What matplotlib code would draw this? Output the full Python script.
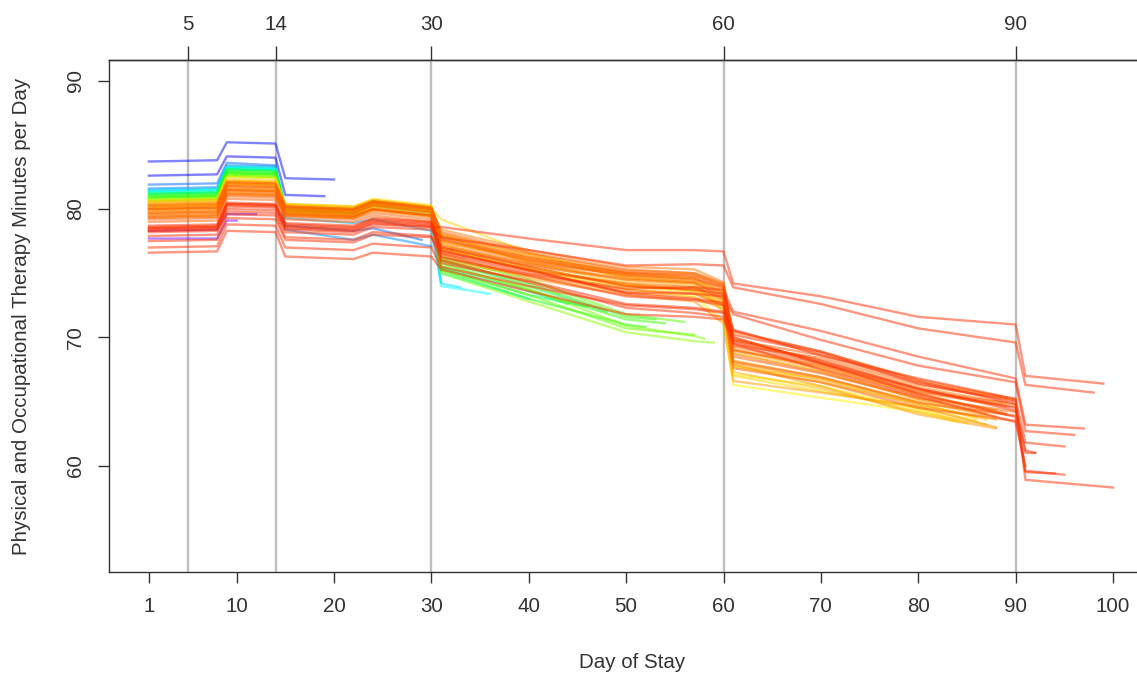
import colorsys
import numpy as np
import matplotlib
matplotlib.use("Agg")
import matplotlib.pyplot as plt

# ---- data --------------------------------------------------------------
# each trajectory is given at these days (only the ones before its end),
# followed by its value on its last day of stay
knot_days = [1, 8, 9, 14, 15, 22, 24, 30, 31, 40, 50, 57, 60, 61, 70, 80, 90, 91]

stay_len = [10, 12, 19, 20, 29, 30, 31, 33, 36, 40, 44, 46, 48, 52, 53, 54, 56, 57, 58, 59,
            84, 85, 86, 86, 87, 87, 87, 88, 88, 88, 88, 88,
            89, 89, 89, 89, 89, 90, 90, 90, 90, 90, 90, 90,
            91, 92, 92, 94, 95, 95, 96, 97, 98, 99, 100]

stay_vals = [
    [77.7, 77.7, 79.1, 79.1],
    [78.3, 78.4, 79.6, 79.6],
    [82.6, 82.7, 84.1, 84.0, 81.1, 81.0],
    [83.7, 83.8, 85.2, 85.1, 82.4, 82.3],
    [81.9, 82.0, 83.6, 83.4, 78.7, 78.3, 78.5, 77.6],
    [81.6, 81.7, 83.4, 83.3, 78.4, 77.6, 78.0, 77.1],
    [81.5, 81.6, 83.3, 83.2, 79.3, 78.9, 79.2, 78.3, 74.3],
    [81.4, 81.5, 83.2, 83.1, 80.0, 79.8, 80.3, 79.6, 74.2, 73.9],
    [81.3, 81.4, 83.2, 83.1, 80.1, 79.9, 80.5, 79.8, 74.0, 73.4],
    [81.4, 81.5, 83.3, 83.2, 80.3, 80.1, 80.6, 80.1, 75.0, 73.0],
    [81.2, 81.3, 83.1, 83.0, 80.2, 80.0, 80.5, 80.0, 75.5, 73.6, 72.6],
    [81.2, 81.3, 83.1, 83.0, 80.1, 79.9, 80.5, 80.0, 75.4, 73.3, 72.4],
    [81.1, 81.2, 83.0, 82.9, 80.0, 79.8, 80.4, 79.9, 76.0, 74.0, 72.0],
    [81.0, 81.1, 82.9, 82.8, 80.1, 79.9, 80.6, 80.1, 75.2, 73.0, 71.0, 70.8],
    [80.9, 81.0, 82.8, 82.7, 80.0, 79.8, 80.4, 79.9, 76.1, 74.2, 71.6, 71.4],
    [80.9, 81.0, 82.8, 82.7, 79.9, 79.7, 80.4, 79.9, 75.8, 73.7, 71.4, 71.1],
    [80.8, 80.9, 82.7, 82.6, 80.0, 79.8, 80.5, 80.0, 76.3, 74.5, 71.8, 71.2],
    [80.7, 80.8, 82.6, 82.5, 79.9, 79.7, 80.3, 79.8, 75.3, 73.3, 70.7, 70.2],
    [80.7, 80.8, 82.6, 82.5, 79.8, 79.6, 80.3, 79.8, 75.6, 73.8, 70.9, 70.1, 69.9],
    [80.6, 80.7, 82.5, 82.4, 79.7, 79.5, 80.2, 79.7, 75.0, 72.8, 70.4, 69.7, 69.6],
    [80.2, 80.3, 82.0, 81.9, 80.0, 79.8, 80.4, 79.9, 77.0, 75.2, 73.8, 73.2, 71.3, 66.3, 65.3, 64.2, 63.4],
    [80.7, 80.8, 82.5, 82.4, 80.4, 80.2, 80.8, 80.3, 77.3, 75.5, 74.0, 73.5, 72.3, 67.1, 66.2, 64.4, 63.3],
    [80.4, 80.5, 82.2, 82.1, 80.3, 80.1, 80.6, 80.1, 79.2, 76.6, 74.6, 74.2, 72.0, 67.0, 65.8, 64.5, 63.5],
    [79.7, 79.8, 81.5, 81.4, 79.8, 79.6, 80.2, 79.7, 76.9, 75.4, 74.1, 73.7, 72.6, 67.7, 66.8, 64.9, 63.7],
    [80.6, 80.7, 82.3, 82.2, 80.4, 80.2, 80.7, 80.2, 78.0, 75.8, 74.2, 73.6, 72.6, 67.8, 66.5, 64.8, 63.6],
    [80.5, 80.6, 82.2, 82.1, 80.3, 80.1, 80.7, 80.2, 77.6, 75.9, 74.4, 74.0, 72.9, 67.3, 66.0, 64.2, 63.2],
    [80.2, 80.3, 82.0, 81.9, 80.1, 79.9, 80.5, 80.0, 78.1, 76.4, 75.0, 74.6, 73.4, 68.8, 67.4, 65.2, 64.0],
    [80.0, 80.1, 81.8, 81.7, 79.9, 79.7, 80.3, 79.8, 76.5, 74.6, 73.3, 72.8, 71.1, 66.6, 65.7, 64.6, 63.0],
    [79.4, 79.5, 81.2, 81.1, 79.5, 79.3, 79.9, 79.4, 76.8, 75.3, 74.0, 73.8, 72.8, 68.2, 66.9, 65.0, 63.8],
    [79.9, 80.0, 81.5, 81.4, 79.6, 79.4, 80.0, 79.5, 76.0, 74.8, 73.5, 73.1, 72.2, 67.9, 66.2, 64.0, 62.9],
    [79.5, 79.6, 81.3, 81.2, 79.6, 79.4, 80.0, 79.5, 77.5, 76.1, 74.8, 74.4, 73.5, 69.1, 67.7, 65.5, 64.3],
    [80.4, 80.5, 82.1, 82.0, 80.2, 80.0, 80.6, 80.1, 77.9, 76.2, 74.7, 74.3, 73.0, 68.0, 66.7, 64.7, 63.6],
    [79.8, 79.9, 81.6, 81.5, 79.8, 79.6, 80.2, 79.7, 77.4, 76.0, 74.8, 74.6, 73.6, 69.0, 67.6, 65.6, 64.1],
    [80.1, 80.2, 81.9, 81.8, 80.1, 79.9, 80.5, 80.0, 77.8, 76.3, 75.0, 74.9, 74.0, 70.0, 68.0, 65.9, 64.6],
    [80.0, 80.1, 81.7, 81.6, 80.0, 79.8, 80.4, 79.9, 78.4, 76.8, 75.5, 75.3, 74.3, 70.4, 68.9, 66.7, 65.3],
    [79.3, 79.4, 81.1, 81.0, 79.5, 79.3, 79.9, 79.4, 77.1, 75.7, 74.6, 74.3, 73.4, 68.7, 67.3, 65.2, 64.0],
    [80.2, 80.3, 82.0, 81.9, 80.2, 80.0, 80.6, 80.1, 78.0, 76.5, 75.2, 75.0, 74.1, 69.7, 68.2, 66.1, 64.9],
    [79.6, 79.7, 81.4, 81.3, 79.7, 79.5, 80.0, 79.5, 77.0, 75.6, 74.5, 74.2, 73.2, 68.5, 67.2, 65.3, 64.2],
    [80.3, 80.4, 82.1, 82.0, 80.2, 80.0, 80.6, 80.1, 78.2, 76.6, 75.3, 75.0, 74.2, 69.4, 68.4, 66.3, 65.1],
    [79.2, 79.3, 81.0, 80.9, 79.4, 79.2, 79.7, 79.2, 76.2, 74.9, 73.7, 73.4, 72.5, 67.6, 66.5, 64.5, 63.5],
    [79.0, 79.1, 80.8, 80.7, 79.2, 79.0, 79.5, 79.0, 77.2, 75.8, 74.9, 74.5, 73.9, 69.3, 67.9, 65.8, 64.8],
    [79.7, 79.8, 81.5, 81.4, 79.9, 79.7, 80.3, 79.8, 77.6, 76.2, 75.1, 74.8, 74.0, 69.0, 67.8, 65.7, 64.6],
    [79.4, 79.5, 81.2, 81.1, 79.6, 79.4, 80.0, 79.5, 76.6, 75.2, 74.2, 73.9, 73.0, 68.1, 66.9, 64.9, 63.9],
    [80.0, 80.1, 81.8, 81.7, 80.1, 79.9, 80.5, 80.0, 77.7, 76.0, 75.0, 74.7, 73.8, 69.8, 68.6, 66.5, 65.2],
    [78.4, 78.5, 80.3, 80.2, 78.6, 78.4, 79.0, 78.7, 76.3, 74.8, 73.2, 72.9, 72.5, 69.5, 67.5, 65.4, 63.4, 60.0],
    [78.6, 78.7, 80.4, 80.3, 78.7, 78.5, 79.1, 78.8, 76.0, 74.3, 72.3, 71.9, 71.6, 69.8, 68.2, 66.0, 64.3, 61.2, 61.0],
    [78.5, 78.6, 80.4, 80.3, 78.9, 78.7, 79.3, 79.0, 76.7, 75.3, 73.4, 73.0, 72.7, 70.0, 68.0, 66.0, 64.5, 61.0, 61.0],
    [78.7, 78.8, 80.5, 80.4, 78.8, 78.6, 79.2, 78.9, 77.0, 75.5, 74.0, 73.7, 73.4, 70.5, 68.9, 66.6, 64.8, 59.5, 59.4],
    [77.9, 78.0, 79.6, 79.5, 77.8, 77.6, 78.2, 77.9, 75.8, 74.4, 72.6, 72.3, 72.0, 70.6, 68.6, 66.8, 65.2, 61.8, 61.5],
    [76.6, 76.7, 78.3, 78.2, 76.3, 76.1, 76.6, 76.3, 75.3, 73.6, 71.8, 71.6, 71.4, 69.6, 68.0, 65.6, 63.8, 59.6, 59.3],
    [78.2, 78.3, 80.2, 80.1, 78.5, 78.3, 78.9, 78.6, 76.8, 75.2, 73.5, 73.4, 73.2, 71.8, 69.8, 67.8, 66.5, 62.7, 62.4],
    [77.5, 77.6, 79.3, 79.2, 77.6, 77.4, 78.0, 77.8, 76.5, 75.0, 73.8, 73.9, 73.7, 72.0, 70.5, 68.5, 66.8, 63.2, 62.9],
    [78.3, 78.4, 79.8, 79.7, 78.2, 78.0, 78.6, 78.4, 77.8, 76.8, 75.6, 75.7, 75.6, 73.9, 72.6, 70.7, 69.6, 66.3, 65.7],
    [78.5, 78.6, 80.0, 79.9, 78.4, 78.2, 78.8, 78.6, 78.6, 77.7, 76.8, 76.8, 76.7, 74.2, 73.2, 71.6, 71.0, 67.0, 66.4],
    [77.0, 77.1, 78.8, 78.7, 77.0, 76.8, 77.3, 77.0, 75.5, 74.0, 72.5, 72.2, 71.9, 70.2, 68.8, 66.4, 65.0, 58.9, 58.3],
]

ref_days = [5, 14, 30, 60, 90]
x_ticks = [1, 10, 20, 30, 40, 50, 60, 70, 80, 90, 100]
y_ticks = [60, 70, 80, 90]

# colour runs from violet (short stays) to red (long stays)
hue_len = [10, 12, 19, 20, 29, 31, 33, 36, 40, 44, 48, 52, 56, 59, 84, 86, 88, 89, 90, 91, 100]
hue_val = [0.74, 0.72, 0.667, 0.66, 0.6, 0.55, 0.52, 0.5, 0.47, 0.42, 0.36, 0.32,
           0.28, 0.24, 0.16, 0.14, 0.10, 0.08, 0.06, 0.03, 0.03]

plt.rcParams['font.family'] = ['Liberation Sans', 'DejaVu Sans']
ink = '#333333'

fig = plt.figure(figsize=(11.37, 6.74), dpi=100)
ax = fig.add_axes([109 / 1137, 102 / 674, 1043 / 1137, 512 / 674])

for d in ref_days:
    ax.axvline(d, color='#bebebe', lw=1.7, zorder=1)

for L, vals in zip(stay_len, stay_vals):
    x = [d for d in knot_days if d < L] + [L]
    assert len(x) == len(vals), (L, len(x), len(vals))
    c = colorsys.hsv_to_rgb(float(np.interp(L, hue_len, hue_val)), 1.0, 1.0)
    ax.plot(x, vals, color=c, alpha=0.5, lw=1.7, zorder=2)

ax.set_xlim(-3.1, 104.0)
ax.set_ylim(51.72, 91.61)
ax.set_xticks(x_ticks)
ax.set_yticks(y_ticks)
ax.set_yticklabels([str(v) for v in y_ticks], rotation=90, va='center')
ax.tick_params(axis='both', length=8, width=1, color=ink,
               labelsize=14.8, labelcolor=ink)
ax.tick_params(axis='x', pad=10)
ax.tick_params(axis='y', pad=9)
for s in ax.spines.values():
    s.set_linewidth(1.0)
    s.set_color(ink)

top = ax.secondary_xaxis('top')
top.set_xticks(ref_days)
top.tick_params(length=10, width=1, color=ink, labelsize=14.8,
                labelcolor=ink, pad=9)
top.spines['top'].set_linewidth(1.0)
top.spines['top'].set_color(ink)

fig.text(632 / 1137, 1 - 662 / 674, 'Day of Stay', ha='center', va='center',
         fontsize=14.8, color=ink)
fig.text(22 / 1137, 1 - 316 / 674, 'Physical and Occupational Therapy Minutes per Day',
         ha='center', va='center', rotation=90, fontsize=14.8, color=ink)

fig.savefig('out.png', dpi=100)
